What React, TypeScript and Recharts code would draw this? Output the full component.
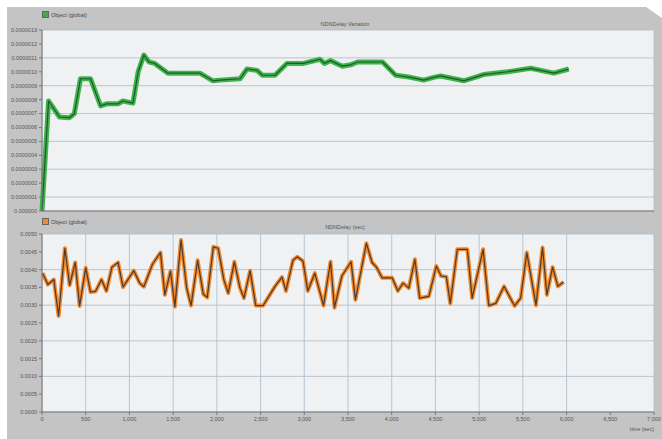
import { LineChart, Line, XAxis, YAxis, CartesianGrid } from "recharts";

// time (sec) / value pairs
const topTime = [0, 75, 200, 315, 370, 440, 555, 670, 740, 870, 925, 1040, 1100, 1165, 1225, 1290, 1440, 1805, 1955, 2035, 2265, 2345, 2460, 2520, 2665, 2800, 2990, 3180, 3230, 3300, 3435, 3530, 3610, 3895, 4045, 4215, 4365, 4480, 4560, 4825, 5050, 5325, 5590, 5855, 6025];
const topValue = [0, 7.9e-7, 6.75e-7, 6.7e-7, 7.0e-7, 9.5e-7, 9.5e-7, 7.55e-7, 7.7e-7, 7.7e-7, 7.9e-7, 7.75e-7, 10.0e-7, 11.2e-7, 10.7e-7, 10.6e-7, 9.9e-7, 9.9e-7, 9.35e-7, 9.4e-7, 9.5e-7, 10.2e-7, 10.1e-7, 9.75e-7, 9.75e-7, 10.6e-7, 10.6e-7, 10.9e-7, 10.6e-7, 10.8e-7, 10.4e-7, 10.5e-7, 10.7e-7, 10.7e-7, 9.75e-7, 9.6e-7, 9.4e-7, 9.6e-7, 9.7e-7, 9.35e-7, 9.8e-7, 10.0e-7, 10.25e-7, 9.9e-7, 10.2e-7];

const botTime = [6, 67, 135, 190, 262, 316, 380, 430, 500, 555, 613, 680, 737, 800, 870, 927, 1050, 1118, 1165, 1263, 1355, 1405, 1470, 1520, 1590, 1655, 1705, 1780, 1845, 1890, 1960, 2015, 2080, 2130, 2200, 2265, 2310, 2380, 2445, 2530, 2665, 2745, 2790, 2870, 2920, 2985, 3040, 3120, 3220, 3300, 3345, 3430, 3535, 3585, 3710, 3775, 3825, 3890, 4005, 4070, 4130, 4195, 4265, 4320, 4425, 4510, 4565, 4625, 4670, 4750, 4865, 4920, 5045, 5110, 5190, 5285, 5405, 5475, 5545, 5650, 5725, 5775, 5840, 5900, 5965];
const botValue = [0.0039, 0.00358, 0.00372, 0.0027, 0.0046, 0.00356, 0.0042, 0.00298, 0.00405, 0.00337, 0.00339, 0.00372, 0.0034, 0.00407, 0.0042, 0.00351, 0.00397, 0.00362, 0.00352, 0.00415, 0.00448, 0.00329, 0.00396, 0.00296, 0.00483, 0.00348, 0.00299, 0.00426, 0.00331, 0.00322, 0.00464, 0.0046, 0.00372, 0.00334, 0.00422, 0.00348, 0.0032, 0.00397, 0.00299, 0.00299, 0.00353, 0.00379, 0.0034, 0.00426, 0.00436, 0.00424, 0.0034, 0.0039, 0.00299, 0.00422, 0.00293, 0.00382, 0.00422, 0.00315, 0.00474, 0.0042, 0.00407, 0.00377, 0.00377, 0.0034, 0.00362, 0.00348, 0.00429, 0.0032, 0.00325, 0.0041, 0.00382, 0.0038, 0.00305, 0.00457, 0.00457, 0.0032, 0.00457, 0.00299, 0.00305, 0.00353, 0.00298, 0.0032, 0.00448, 0.003, 0.00462, 0.00329, 0.00407, 0.00353, 0.00365];

const xTicks = [0, 500, 1000, 1500, 2000, 2500, 3000, 3500, 4000, 4500, 5000, 5500, 6000, 6500, 7000];
const topTicks = [0, 1e-7, 2e-7, 3e-7, 4e-7, 5e-7, 6e-7, 7e-7, 8e-7, 9e-7, 10e-7, 11e-7, 12e-7, 13e-7];
const botTicks = [0, 0.0005, 0.001, 0.0015, 0.002, 0.0025, 0.003, 0.0035, 0.004, 0.0045, 0.005];

const topTitle = "NDNDelay Variation";
const botTitle = "NDNDelay (sec)";
const legendName = "Object (global)";
const xTitle = "time (sec)";

const topData = topTime.map((t, i) => ({ t, v: topValue[i] }));
const botData = botTime.map((t, i) => ({ t, v: botValue[i] }));

const font = "'Liberation Sans', Arial, sans-serif";
const tickStyle = { fontSize: 5.5, fill: "#555", fontFamily: font };
const gridColor = "#a9bccb";

const Legend = ({ top, color }: { top: number; color: string }) => (
  <div style={{ position: "absolute", left: 42, top, display: "flex", alignItems: "center", fontFamily: font, fontSize: 5.5, color: "#444" }}>
    <span style={{ width: 5, height: 5, background: color, border: "0.5px solid #666", marginRight: 2 }} />
    {legendName}
  </div>
);

const Title = ({ top, text }: { top: number; text: string }) => (
  <div style={{ position: "absolute", left: 245, width: 200, top, textAlign: "center", fontFamily: font, fontSize: 5.5, color: "#555" }}>
    {text}
  </div>
);

export default function App() {
  return (
    <div style={{ position: "absolute", left: 0, top: 0, width: 662, height: 439, background: "#fff", overflow: "hidden" }}>
      <div style={{ position: "absolute", left: 7, top: 7, width: 655, height: 432, background: "#c4c4c4" }} />
      <svg style={{ position: "absolute", left: 0, top: 0 }} width={662} height={30}>
        <polygon points="636,0 662,0 662,18" fill="#fff" />
      </svg>

      <Legend top={11} color="#3cae48" />
      <Title top={21} text={topTitle} />
      <div style={{ position: "absolute", left: 0, top: 0 }}>
        <LineChart width={662} height={215} data={topData} margin={{ top: 30, right: 8, bottom: 3, left: 0 }}>
          <CartesianGrid stroke={gridColor} strokeWidth={0.8} fill="#eff1f3" />
          <XAxis type="number" dataKey="t" domain={[0, 7000]} ticks={xTicks} tick={false} height={1} stroke="#777" />
          <YAxis type="number" domain={[0, 13e-7]} ticks={topTicks} width={42} tickSize={3} stroke="#777" tick={tickStyle}
            tickFormatter={(v: number) => (v === 0 ? "0.000000" : v.toFixed(7))} />
          <Line type="linear" dataKey="v" stroke="#3fb34c" strokeWidth={5} dot={false} isAnimationActive={false} strokeLinejoin="round" />
          <Line type="linear" dataKey="v" stroke="#1d5a26" strokeWidth={1.2} dot={false} isAnimationActive={false} strokeLinejoin="round" />
        </LineChart>
      </div>

      <Legend top={218} color="#f08a2c" />
      <Title top={224} text={botTitle} />
      <div style={{ position: "absolute", left: 0, top: 212 }}>
        <LineChart width={662} height={227} data={botData} margin={{ top: 22, right: 8, bottom: 0, left: 0 }}>
          <CartesianGrid stroke={gridColor} strokeWidth={0.8} fill="#eff1f3" />
          <XAxis type="number" dataKey="t" domain={[0, 7000]} ticks={xTicks} height={27} tickSize={3} stroke="#777" tick={tickStyle}
            tickFormatter={(v: number) => v.toLocaleString("en-US")} />
          <YAxis type="number" domain={[0, 0.005]} ticks={botTicks} width={42} tickSize={3} stroke="#777" tick={tickStyle}
            tickFormatter={(v: number) => v.toFixed(4)} />
          <Line type="linear" dataKey="v" stroke="#f28a2e" strokeWidth={4} dot={false} isAnimationActive={false} strokeLinejoin="round" />
          <Line type="linear" dataKey="v" stroke="#4b3b30" strokeWidth={1.2} dot={false} isAnimationActive={false} strokeLinejoin="round" />
        </LineChart>
      </div>
      <div style={{ position: "absolute", right: 8, top: 426, fontFamily: font, fontSize: 5.5, color: "#555" }}>{xTitle}</div>
    </div>
  );
}
